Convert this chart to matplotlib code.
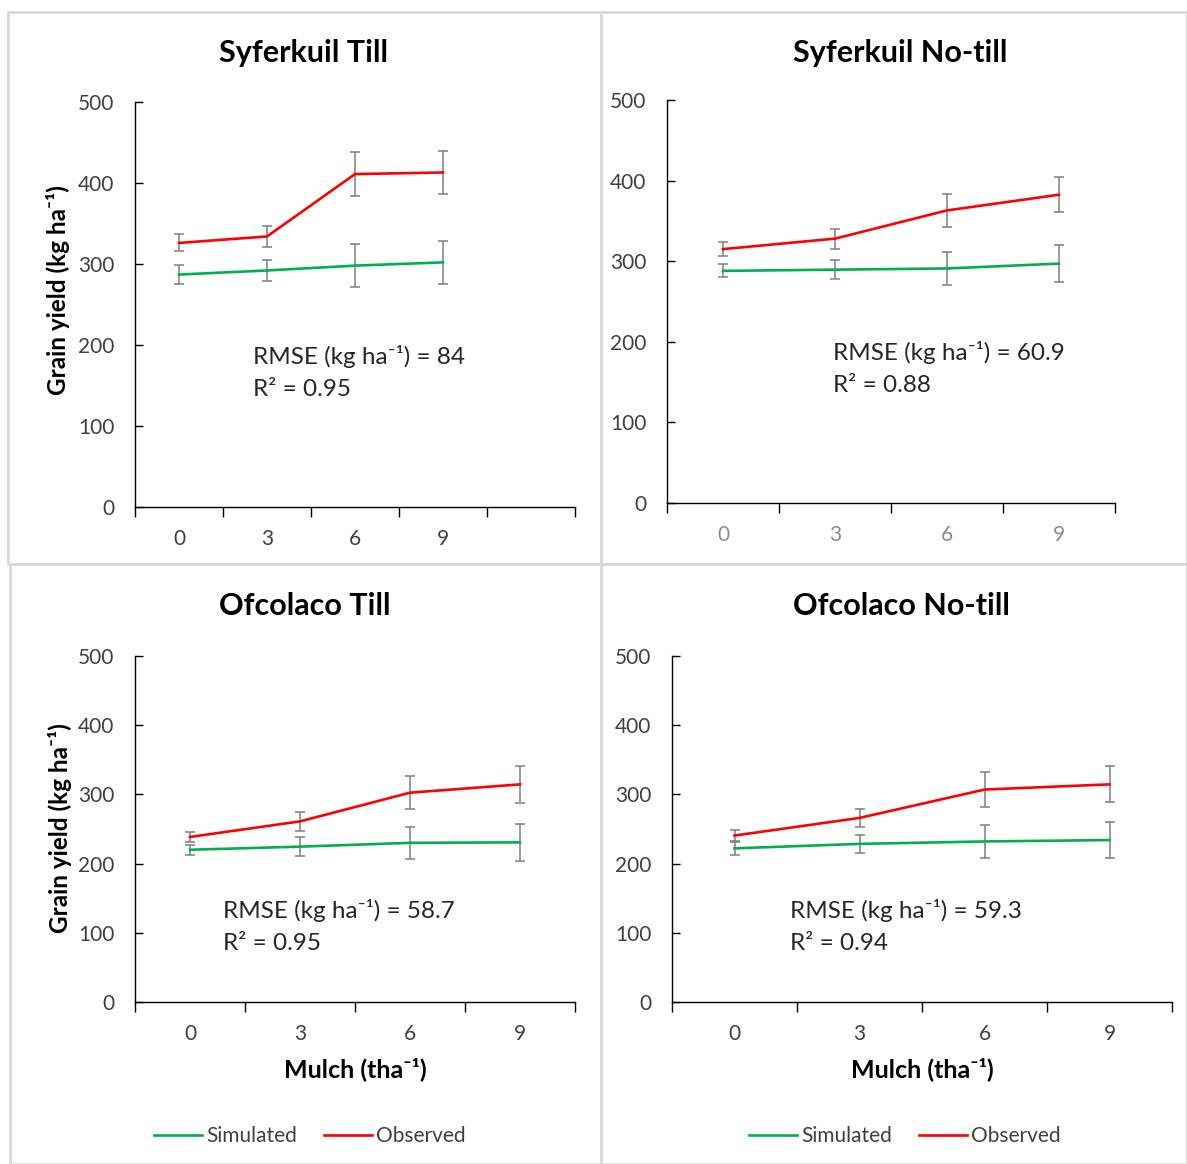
import matplotlib
matplotlib.use("Agg")
import matplotlib.pyplot as plt
from matplotlib.patches import Rectangle
import numpy as np

plt.rcParams['font.family'] = ['Lato', 'DejaVu Sans']

W, H = 1187, 1164

# ---- data ----
mulch = ['0', '3', '6', '9']
titles = ['Syferkuil Till', 'Syferkuil No-till', 'Ofcolaco Till', 'Ofcolaco No-till']

st_sim = [287, 292, 298, 302]
st_sim_err = [12, 12.5, 27, 27]
st_obs = [326, 334, 411, 413]
st_obs_err = [10.5, 13, 27, 26]

sn_sim = [288, 289.5, 291, 297]
sn_sim_err = [8, 12, 20, 22.5]
sn_obs = [315, 328, 363, 382.5]
sn_obs_err = [9, 12.5, 20.5, 22]

ot_sim = [220, 224.5, 230, 230.7]
ot_sim_err = [7.5, 13.5, 23, 26.5]
ot_obs = [238.5, 261, 302.5, 314.5]
ot_obs_err = [7.5, 14, 24, 26.5]

on_sim = [222, 228.5, 232, 234]
on_sim_err = [9.5, 13.5, 24.5, 25.5]
on_obs = [240.5, 266, 307, 314.5]
on_obs_err = [8, 13, 25, 26]

stats = [('84', '0.95'), ('60.9', '0.88'), ('58.7', '0.95'), ('59.3', '0.94')]

GREEN = '#00B050'
RED = '#FF0000'
ERR = '#7f7f7f'
TXT = '#404040'

fig = plt.figure(figsize=(W / 100, H / 100), dpi=100)


def fx(x):
    return x / W


def fy(y):
    return 1 - y / H


def rect(x0, y0, x1, y1):
    return [fx(x0), fy(y1), fx(x1) - fx(x0), fy(y0) - fy(y1)]


# panel borders
for (x0, y0, x1, y1) in [(8, 12, 601, 564), (601, 12, 1187, 564),
                         (10, 564, 601, 1164), (601, 564, 1187, 1164)]:
    fig.add_artist(Rectangle((fx(x0), fy(y1)), fx(x1) - fx(x0), fy(y0) - fy(y1),
                             transform=fig.transFigure, fill=False,
                             edgecolor='#d9d9d9', linewidth=2))

panels = [
    dict(box=(135, 102, 575, 507), ncat=5, sim=st_sim, se=st_sim_err, obs=st_obs, oe=st_obs_err,
         title_xy=(304, 53), ylab=(58, 290), stat_xy=(253, 357), xcol=TXT, xlab=None, leg=None),
    dict(box=(667, 100, 1115, 503), ncat=4, sim=sn_sim, se=sn_sim_err, obs=sn_obs, oe=sn_obs_err,
         title_xy=(900, 53), ylab=None, stat_xy=(833, 353), xcol='#8c8c8c', xlab=None, leg=None),
    dict(box=(135, 656, 575, 1002), ncat=4, sim=ot_sim, se=ot_sim_err, obs=ot_obs, oe=ot_obs_err,
         title_xy=(305, 606), ylab=(60, 828), stat_xy=(223, 911), xcol=TXT, xlab=(355, 1069), leg=(310, 1136)),
    dict(box=(672, 656, 1172, 1002), ncat=4, sim=on_sim, se=on_sim_err, obs=on_obs, oe=on_obs_err,
         title_xy=(901, 606), ylab=None, stat_xy=(790, 910), xcol=TXT, xlab=(922, 1069), leg=(905, 1136)),
]

for p, title, (rmse, r2) in zip(panels, titles, stats):
    ax = fig.add_axes(rect(*p['box']))
    n = p['ncat']
    xs = np.arange(len(mulch)) + 0.5
    lsim, = ax.plot(xs, p['sim'], color=GREEN, lw=1.9, zorder=3, label='Simulated')
    lobs, = ax.plot(xs, p['obs'], color=RED, lw=1.9, zorder=3, label='Observed')
    ax.errorbar(xs, p['sim'], yerr=p['se'], fmt='none', ecolor=ERR, elinewidth=1.1,
                capsize=3.8, capthick=1.1, zorder=2)
    ax.errorbar(xs, p['obs'], yerr=p['oe'], fmt='none', ecolor=ERR, elinewidth=1.1,
                capsize=3.8, capthick=1.1, zorder=2)
    ax.set_xlim(0, n)
    ax.set_ylim(0, 500)
    ax.set_yticks(np.arange(0, 501, 100))
    ax.set_xticks(np.arange(0, n + 1))
    ax.set_xticklabels([])
    labels = mulch + [''] * (n - len(mulch))
    ax.set_xticks(np.arange(n) + 0.5, minor=True)
    ax.set_xticklabels(labels, minor=True)
    for s in ['top', 'right']:
        ax.spines[s].set_visible(False)
    for s in ['left', 'bottom']:
        ax.spines[s].set_linewidth(1.0)
        ax.spines[s].set_color('black')
    ax.tick_params(axis='y', direction='in', length=6, width=1, pad=15, labelsize=15, labelcolor=TXT)
    ax.tick_params(axis='x', which='major', direction='out', length=7, width=1)
    ax.tick_params(axis='x', which='minor', length=0, pad=16, labelsize=15, labelcolor=p['xcol'])
    ax.patch.set_alpha(0)

    fig.text(fx(p['title_xy'][0]), fy(p['title_xy'][1]), title, ha='center', va='center',
             fontsize=22, fontweight='bold', color='black')
    if p['ylab']:
        fig.text(fx(p['ylab'][0]), fy(p['ylab'][1]), 'Grain yield (kg ha\u207b\u00b9)', rotation=90,
                 ha='center', va='center', fontsize=17.5, fontweight='bold', color='black')
    sx, sy = p['stat_xy']
    fig.text(fx(sx), fy(sy), f'RMSE (kg ha\u207b\u00b9) = {rmse}', ha='left', va='center',
             fontsize=17.5, color='#262626')
    fig.text(fx(sx), fy(sy + 33), f'R\u00b2 = {r2}', ha='left', va='center',
             fontsize=17.5, color='#262626')
    if p['xlab']:
        fig.text(fx(p['xlab'][0]), fy(p['xlab'][1]), 'Mulch (tha\u207b\u00b9)', ha='center', va='center',
                 fontsize=18, fontweight='bold', color='black')
    if p['leg']:
        ax.legend(handles=[lsim, lobs], loc='center', bbox_to_anchor=(fx(p['leg'][0]), fy(p['leg'][1])),
                  bbox_transform=fig.transFigure, ncol=2, frameon=False, fontsize=15,
                  handlelength=2.3, handletextpad=0.2, columnspacing=1.3, labelcolor=TXT)

fig.savefig('out.png', dpi=100)
